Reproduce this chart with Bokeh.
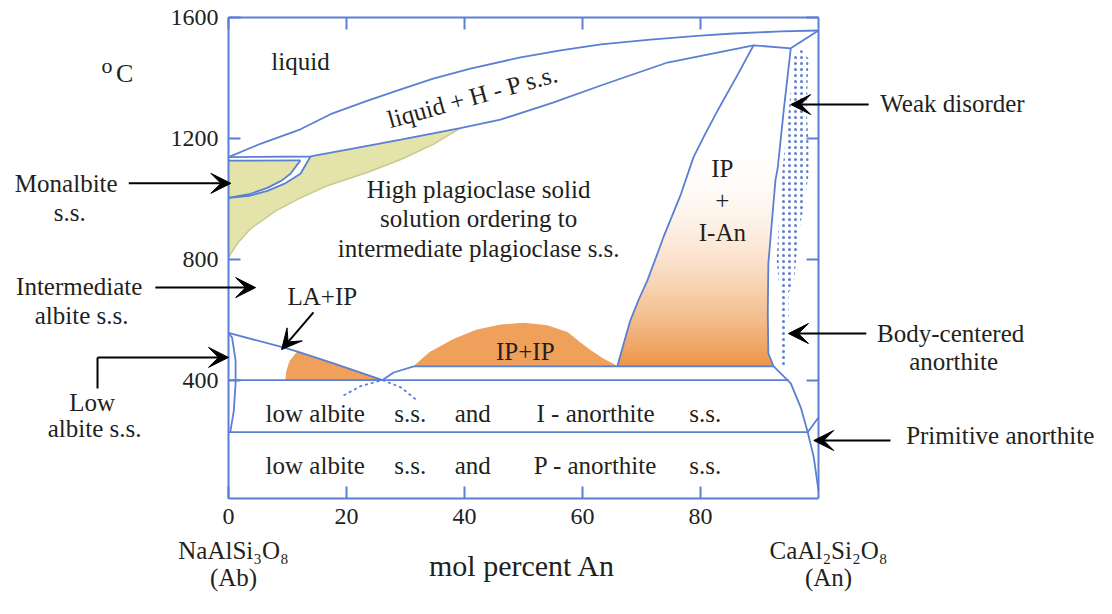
import numpy as np
from bokeh.plotting import figure
from bokeh.models import Range1d, LinearAxis, FixedTicker, Label, Arrow, VeeHead
from bokeh.embed import file_html
from bokeh.resources import INLINE

# ---------------- data (mol % An, temperature degC) ----------------
x_ticks = [0, 20, 40, 60, 80]
y_ticks = [400, 800, 1200, 1600]
x_lim = (0, 100)
t_lim = (8, 1600)

liquidus_x = [0, 5.4, 12.2, 17.3, 23.6, 29.2, 34.7, 41.0, 49.5, 56.3, 63.1, 71.5, 80.0, 85.6, 93.6, 100]
liquidus_t = [1138, 1182, 1230, 1280, 1325, 1362, 1398, 1431, 1468, 1491, 1511, 1527, 1540, 1547, 1554, 1557]

solidus_x = [0, 13.9, 21.5, 29.2, 39.3, 46.1, 55.0, 63.1, 74.4, 89.0, 95.3, 100]
solidus_t = [1138, 1140, 1168, 1196, 1234, 1262, 1318, 1375, 1451, 1508, 1498, 1557]

monal_top_x = [0, 12.2]
monal_top_t = [1126, 1127]
lens_inner_x = [0, 3.5, 6.6, 9.0, 10.5, 12.2]
lens_inner_t = [1003, 1015, 1036, 1060, 1083, 1127]
lens_outer_x = [0, 3.5, 6.6, 9.5, 12.2, 13.9]
lens_outer_t = [1003, 1010, 1026, 1050, 1083, 1140]

hp_low_x = [0, 1.5, 3.7, 8.0, 12.2, 17.0, 23.6, 29.2, 34.7, 39.3]
hp_low_t = [806, 852, 900, 960, 1003, 1045, 1088, 1130, 1180, 1234]

ipan_left_x = [65.9, 67.0, 68.1, 69.5, 71.0, 72.4, 73.7, 75.2, 76.6, 78.8, 80.8, 82.9, 86.0, 89.0]
ipan_left_t = [445, 522, 597, 665, 730, 803, 872, 944, 1011, 1137, 1215, 1292, 1400, 1508]

right_x = [95.3, 94.1, 93.1, 92.7, 91.5, 91.4, 91.5, 92.4, 95.3, 97.0, 98.1, 99.2, 100]
right_t = [1498, 1292, 1104, 1061, 786, 620, 488, 445, 389, 309, 233, 144, 34]

line445_x = [31.4, 92.4]
line445_t = [445, 445]
line400_x = [0, 95.0]
line400_t = [400, 400]
line228_x = [0, 98.2]
line228_t = [228, 228]
prim_x = [98.2, 100]
prim_t = [228, 276]

lowab_x = [0, 0.6, 1.2, 1.2, 0.9, 0.3]
lowab_t = [556, 541, 465, 389, 299, 228]

laip_line_x = [0, 9.3, 11.7, 17.8, 26.1]
laip_line_t = [556, 508, 494, 455, 400]
laip_left_x = [9.7, 9.9, 10.4, 11.7]
laip_left_t = [400, 430, 462, 494]

link_x = [26.1, 28.0, 31.4]
link_t = [400, 425, 445]

dash_x = [19.5, 22.4, 26.1, 29.2, 32.0]
dash_t = [349, 380, 400, 376, 332]

dome_x = [31.4, 34.0, 38.1, 42.0, 46.1, 50.0, 54.0, 57.5, 59.7, 61.4, 63.5, 65.9]
dome_t = [445, 490, 534, 565, 582, 588, 580, 557, 522, 497, 470, 445]

dots_x = [93.7, 93.7, 93.4, 92.9, 93.2, 93.7, 94.6, 95.3, 95.9, 96.9,
          98.3, 98.0, 98.3, 98.3, 97.5, 96.6, 95.8, 94.9, 94.9, 94.4, 94.4]
dots_t = [445, 591, 697, 796, 895, 1061, 1226, 1359, 1474, 1498,
          1464, 1292, 1193, 1077, 978, 879, 713, 690, 597, 591, 445]

# ---------------- styling ----------------
BLUE = "#5b7fd3"
YEL = "#e3e3aa"
YEL_EDGE = "#c9c98c"
ORANGE = "#efa05a"
TXT = "#231f20"
FONT = "Liberation Serif"

W, H = 1110, 612
PX_X = 5.9            # pixels per mol %
PX_T = 481 / 1592     # pixels per degree
LEFT, TOP = 228, 17   # pixel position of the diagram box corner
xr = Range1d(x_lim[0] - LEFT / PX_X, x_lim[0] - LEFT / PX_X + W / PX_X)
yr = Range1d(t_lim[1] + TOP / PX_T - H / PX_T, t_lim[1] + TOP / PX_T)

p = figure(width=W, height=H, x_range=xr, y_range=yr,
           output_backend="svg", toolbar_location=None,
           x_axis_location=None, y_axis_location=None, min_border=0)
p.xgrid.grid_line_color = None
p.ygrid.grid_line_color = None
p.outline_line_color = None
p.background_fill_color = "white"
p.border_fill_color = "white"


def make_axis(side, ticks, loc, bounds, labels):
    ax = LinearAxis(fixed_location=loc, bounds=bounds)
    ax.ticker = FixedTicker(ticks=ticks)
    ax.axis_line_color = BLUE
    ax.axis_line_width = 2
    ax.major_tick_line_color = BLUE
    ax.major_tick_line_width = 2
    ax.major_tick_in = 12
    ax.major_tick_out = 0
    ax.minor_tick_line_color = None
    ax.major_label_text_font = FONT
    ax.major_label_text_font_size = "24px"
    ax.major_label_standoff = 10
    ax.major_label_text_color = TXT if labels else None
    p.add_layout(ax, side)
    return ax


make_axis("below", x_ticks, t_lim[0], x_lim, True)
make_axis("left", y_ticks, x_lim[0], t_lim, True)
make_axis("above", x_ticks, t_lim[1], x_lim, False)
make_axis("right", y_ticks, x_lim[1], t_lim, False)

# ---------------- fills ----------------
hp_x = lens_outer_x + solidus_x[2:5] + hp_low_x[::-1]
hp_t = lens_outer_t + solidus_t[2:5] + hp_low_t[::-1]
p.patch(hp_x, hp_t, fill_color=YEL, line_color=None)
p.line(hp_low_x, hp_low_t, line_color=YEL_EDGE, line_width=1.5)

mo_x = lens_inner_x + [monal_top_x[0]]
mo_t = lens_inner_t + [monal_top_t[0]]
p.patch(mo_x, mo_t, fill_color=YEL, line_color=None)

# IP + I-An field with orange-to-white gradient
lb_t = np.array(ipan_left_t, float)
lb_x = np.array(ipan_left_x, float)
k = right_t.index(445)
rb_t = np.array(right_t[:k + 1][::-1] + [ipan_left_t[-1]], float)
rb_x = np.array(right_x[:k + 1][::-1] + [ipan_left_x[-1]], float)
tb = np.linspace(lb_t[0], lb_t[-1], 100)
bxs, bys, bcs = [], [], []
o_rgb = np.array([236, 148, 70], float)
for a, b in zip(tb[:-1], tb[1:]):
    xl0, xl1 = np.interp(a, lb_t, lb_x), np.interp(b, lb_t, lb_x)
    xr0, xr1 = np.interp(a, rb_t, rb_x), np.interp(b, rb_t, rb_x)
    bxs.append([xl0, xr0, xr1, xl1])
    bys.append([a, a, b, b])
    m = 0.5 * (a + b)
    f = max(0.0, (1200 - m) / (1200 - lb_t[0])) ** 2.0
    c = 255 - f * (255 - o_rgb)
    bcs.append("#%02x%02x%02x" % tuple(int(round(v)) for v in c))
p.patches(bxs, bys, fill_color=bcs, line_color=bcs, line_width=1)

p.patch(laip_left_x + laip_line_x[2:], laip_left_t + laip_line_t[2:],
        fill_color=ORANGE, line_color=ORANGE, line_width=1)
p.patch(dome_x, dome_t, fill_color=ORANGE, line_color=ORANGE, line_width=1)

# stippled (weak disorder) zone
p.patch(dots_x, dots_t, fill_alpha=0, line_color=None,
        hatch_pattern="dot", hatch_color=BLUE, hatch_scale=6, hatch_weight=1)

# ---------------- blue phase boundaries ----------------
lw = 1.8
for xs, ts in [(liquidus_x, liquidus_t), (solidus_x, solidus_t), (monal_top_x, monal_top_t),
               (lens_inner_x, lens_inner_t), (lens_outer_x, lens_outer_t),
               (ipan_left_x, ipan_left_t), (right_x, right_t),
               (line445_x, line445_t), (line400_x, line400_t), (line228_x, line228_t),
               (prim_x, prim_t), (lowab_x, lowab_t), (laip_line_x, laip_line_t),
               (link_x, link_t)]:
    p.line(xs, ts, line_color=BLUE, line_width=lw)
p.line(dash_x, dash_t, line_color=BLUE, line_width=1.8, line_dash="3 3")

# ---------------- labels ----------------


def lab(x, t, text, size="25px", angle=0):
    p.add_layout(Label(x=x, y=t, text=text, text_font=FONT, text_font_size=size,
                       text_color=TXT, text_align="center", text_baseline="middle",
                       angle=angle, angle_units="deg"))


lab(-20.6, 1442, "o", "22px")
lab(-17.6, 1416, "C", "26px")
lab(12.2, 1455, "liquid")
lab(41.4, 1338, "liquid + H - P s.s.", angle=15.5)
lab(42.4, 1031, "High plagioclase solid")
lab(42.4, 935, "solution ordering to")
lab(42.4, 836, "intermediate plagioclase s.s.")
lab(83.7, 1100, "IP")
lab(83.7, 994, "+")
lab(83.7, 889, "I-An")
lab(15.9, 677, "LA+IP")
lab(50.3, 495, "IP+IP")
for t, mid in [(289, "I - anorthite"), (117, "P - anorthite")]:
    lab(14.7, t, "low albite")
    lab(30.8, t, "s.s.")
    lab(41.4, t, "and")
    lab(62.2, t, mid)
    lab(80.8, t, "s.s.")

lab(-27.5, 1051, "Monalbite")
lab(-26.9, 955, "s.s.")
lab(-25.3, 710, "Intermediate")
lab(-24.9, 614, "albite s.s.")
lab(-23.1, 326, "Low")
lab(-22.7, 240, "albite s.s.")
lab(122.7, 1315, "Weak disorder")
lab(122.4, 554, "Body-centered")
lab(122.9, 461, "anorthite")
lab(130.8, 217, "Primitive anorthite")
lab(0.85, -164, "NaAlSi\u2083O\u2088")
lab(0.85, -253, "(Ab)")
lab(101.7, -164, "CaAl\u2082Si\u2082O\u2088")
lab(101.7, -253, "(An)")
lab(49.8, -214, "mol percent An", "30px")

# ---------------- arrows ----------------


def arrow(x0, t0, x1, t1, head=True):
    end = VeeHead(size=20, fill_color="black", line_color="black", line_width=1) if head else None
    p.add_layout(Arrow(end=end, x_start=x0, y_start=t0, x_end=x1, y_end=t1,
                       line_color="black", line_width=2))


arrow(-16.9, 1051, 0.4, 1051)
arrow(-12.4, 706, 4.6, 706)
arrow(-22.2, 372, -22.2, 475, head=False)
arrow(-22.2, 475, 0.0, 475)
arrow(14.4, 624, 9.0, 501)
arrow(108.5, 1312, 95.3, 1312)
arrow(108.1, 554, 94.9, 554)
arrow(112.2, 200, 99.2, 200)

open("out.html", "w").write(file_html(p, INLINE))
